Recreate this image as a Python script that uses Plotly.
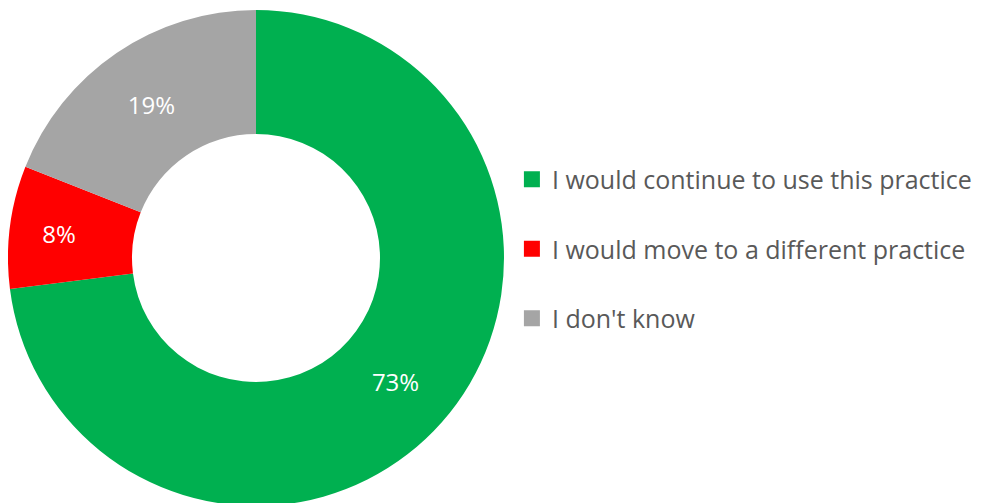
import plotly.graph_objects as go

labels = ["I would continue to use this practice",
          "I would move to a different practice",
          "I don't know"]
values = [73, 8, 19]
colors = ["#00B050", "#FF0000", "#A5A5A5"]

W, H = 990, 503
FONT = "Open Sans"

fig = go.Figure()

fig.add_trace(go.Pie(
    labels=labels, values=values, sort=False, direction="clockwise",
    rotation=0, hole=0.5,
    marker=dict(colors=colors, line=dict(width=0)),
    textinfo="percent", texttemplate="%{percent:.0%}",
    textposition="inside", insidetextorientation="horizontal",
    textfont=dict(color="white", size=24, family=FONT),
    domain=dict(x=[0, 496 / W], y=[0, 1]),
    showlegend=False, hoverinfo="label+percent",
))

# legend entries (one group each so the gap between rows can be set)
for lab, col in zip(labels, colors):
    fig.add_trace(go.Scatter(
        x=[None], y=[None], mode="markers", name=lab, legendgroup=lab,
        marker=dict(symbol="square", size=16, color=col),
    ))

fig.update_layout(
    width=W, height=H,
    margin=dict(l=0, r=0, t=2, b=5),
    paper_bgcolor="white", plot_bgcolor="white",
    xaxis=dict(visible=False), yaxis=dict(visible=False),
    font=dict(family=FONT, color="#595959"),
    legend=dict(x=0.509, xanchor="left", y=0.518, yanchor="middle",
                font=dict(size=25, color="#595959", family=FONT),
                tracegroupgap=34, itemclick=False),
)

fig.write_html("out.html")
